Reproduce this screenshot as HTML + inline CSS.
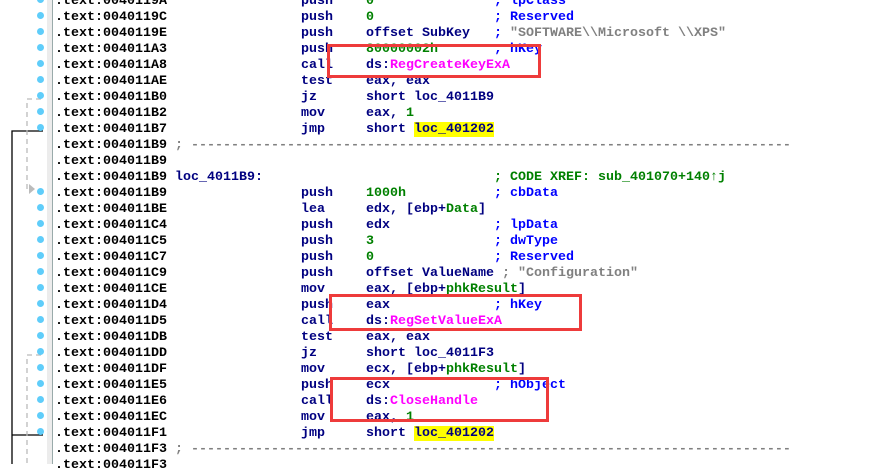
<!DOCTYPE html>
<html><head><meta charset="utf-8"><style>
body{margin:0;width:883px;height:464px;overflow:hidden;background:#fff;position:relative;font-family:"Liberation Mono","DejaVu Sans Mono",monospace;font-size:13.33px;font-weight:bold}
#t{position:absolute;left:0;top:2px;width:883px;height:464px}
.r{position:absolute;left:0;height:16px;line-height:16px;white-space:pre}
.r span{position:absolute;top:0}
.a{left:55px;color:#000}
.m{left:301px;color:#000080}
.o{left:366px;color:#000080}
.c{left:494px;color:#0000ff}
.g{color:#008000}.s{color:#808080}.p{color:#ff00ff}.y{background:#ffff00}
.dot{position:absolute;left:37px;width:7px;height:7px;border-radius:50%;background:#5fcdfa}
.box{position:absolute;border:3px solid #ee3b3b;box-sizing:border-box}
</style></head><body>
<div style="position:absolute;left:47px;top:0;width:5px;height:464px;background:#ececec"></div>
<div style="position:absolute;left:52px;top:0;width:1px;height:464px;background:#9aa"></div>
<svg style="position:absolute;left:0;top:0" width="60" height="464">
<path d="M43 131H12V464M12 435H43" stroke="#000" stroke-width="1.3" fill="none"/>
<path d="M41 99H27V189H31M41 355H27V464" stroke="#bbb" stroke-width="1.3" stroke-dasharray="5,4" fill="none"/>
<path d="M29 184L35 189L29 194Z" fill="#bbb"/>
</svg>
<div class="dot" style="top:-4px"></div><div class="dot" style="top:12px"></div><div class="dot" style="top:28px"></div><div class="dot" style="top:44px"></div><div class="dot" style="top:60px"></div><div class="dot" style="top:76px"></div><div class="dot" style="top:92px"></div><div class="dot" style="top:108px"></div><div class="dot" style="top:124px"></div>
<div class="dot" style="top:188px"></div><div class="dot" style="top:204px"></div><div class="dot" style="top:220px"></div><div class="dot" style="top:236px"></div><div class="dot" style="top:252px"></div><div class="dot" style="top:268px"></div><div class="dot" style="top:284px"></div><div class="dot" style="top:300px"></div><div class="dot" style="top:316px"></div><div class="dot" style="top:332px"></div><div class="dot" style="top:348px"></div><div class="dot" style="top:364px"></div><div class="dot" style="top:380px"></div><div class="dot" style="top:396px"></div><div class="dot" style="top:412px"></div><div class="dot" style="top:428px"></div>
<div id="t">
<div class="r" style="top:-8px"><span class="a">.text:0040119A</span><span class="m">push</span><span class="o g">0</span><span class="c">; lpClass</span></div>
<div class="r" style="top:8px"><span class="a">.text:0040119C</span><span class="m">push</span><span class="o g">0</span><span class="c">; Reserved</span></div>
<div class="r" style="top:24px"><span class="a">.text:0040119E</span><span class="m">push</span><span class="o">offset SubKey</span><span class="c">; <span class="s" style="position:static">"SOFTWARE\\Microsoft \\XPS"</span></span></div>
<div class="r" style="top:40px"><span class="a">.text:004011A3</span><span class="m">push</span><span class="o g">80000002h</span><span class="c">; hKey</span></div>
<div class="r" style="top:56px"><span class="a">.text:004011A8</span><span class="m">call</span><span class="o">ds:<span class="p" style="position:static">RegCreateKeyExA</span></span></div>
<div class="r" style="top:72px"><span class="a">.text:004011AE</span><span class="m">test</span><span class="o">eax, eax</span></div>
<div class="r" style="top:88px"><span class="a">.text:004011B0</span><span class="m">jz</span><span class="o">short loc_4011B9</span></div>
<div class="r" style="top:104px"><span class="a">.text:004011B2</span><span class="m">mov</span><span class="o">eax, <span class="g" style="position:static">1</span></span></div>
<div class="r" style="top:120px"><span class="a">.text:004011B7</span><span class="m">jmp</span><span class="o">short <span class="y" style="position:static">loc_401202</span></span></div>
<div class="r" style="top:136px"><span class="a">.text:004011B9 <span class="s" style="position:static">; ---------------------------------------------------------------------------</span></span></div>
<div class="r" style="top:152px"><span class="a">.text:004011B9</span></div>
<div class="r" style="top:168px"><span class="a">.text:004011B9 <span style="position:static;color:#000080">loc_4011B9:</span></span><span class="c g">; CODE XREF: sub_401070+140↑j</span></div>
<div class="r" style="top:184px"><span class="a">.text:004011B9</span><span class="m">push</span><span class="o g">1000h</span><span class="c">; cbData</span></div>
<div class="r" style="top:200px"><span class="a">.text:004011BE</span><span class="m">lea</span><span class="o">edx, [ebp+<span class="g" style="position:static">Data</span>]</span></div>
<div class="r" style="top:216px"><span class="a">.text:004011C4</span><span class="m">push</span><span class="o">edx</span><span class="c">; lpData</span></div>
<div class="r" style="top:232px"><span class="a">.text:004011C5</span><span class="m">push</span><span class="o g">3</span><span class="c">; dwType</span></div>
<div class="r" style="top:248px"><span class="a">.text:004011C7</span><span class="m">push</span><span class="o g">0</span><span class="c">; Reserved</span></div>
<div class="r" style="top:264px"><span class="a">.text:004011C9</span><span class="m">push</span><span class="o">offset ValueName <span class="s" style="position:static">; "Configuration"</span></span></div>
<div class="r" style="top:280px"><span class="a">.text:004011CE</span><span class="m">mov</span><span class="o">eax, [ebp+<span class="g" style="position:static">phkResult</span>]</span></div>
<div class="r" style="top:296px"><span class="a">.text:004011D4</span><span class="m">push</span><span class="o">eax</span><span class="c">; hKey</span></div>
<div class="r" style="top:312px"><span class="a">.text:004011D5</span><span class="m">call</span><span class="o">ds:<span class="p" style="position:static">RegSetValueExA</span></span></div>
<div class="r" style="top:328px"><span class="a">.text:004011DB</span><span class="m">test</span><span class="o">eax, eax</span></div>
<div class="r" style="top:344px"><span class="a">.text:004011DD</span><span class="m">jz</span><span class="o">short loc_4011F3</span></div>
<div class="r" style="top:360px"><span class="a">.text:004011DF</span><span class="m">mov</span><span class="o">ecx, [ebp+<span class="g" style="position:static">phkResult</span>]</span></div>
<div class="r" style="top:376px"><span class="a">.text:004011E5</span><span class="m">push</span><span class="o">ecx</span><span class="c">; hObject</span></div>
<div class="r" style="top:392px"><span class="a">.text:004011E6</span><span class="m">call</span><span class="o">ds:<span class="p" style="position:static">CloseHandle</span></span></div>
<div class="r" style="top:408px"><span class="a">.text:004011EC</span><span class="m">mov</span><span class="o">eax, <span class="g" style="position:static">1</span></span></div>
<div class="r" style="top:424px"><span class="a">.text:004011F1</span><span class="m">jmp</span><span class="o">short <span class="y" style="position:static">loc_401202</span></span></div>
<div class="r" style="top:440px"><span class="a">.text:004011F3 <span class="s" style="position:static">; ---------------------------------------------------------------------------</span></span></div>
<div class="r" style="top:456px"><span class="a">.text:004011F3</span></div>
</div>
<div class="box" style="left:327px;top:44px;width:214px;height:34px"></div>
<div class="box" style="left:329px;top:294px;width:253px;height:37px"></div>
<div class="box" style="left:330px;top:377px;width:219px;height:45px"></div>
</body></html>
